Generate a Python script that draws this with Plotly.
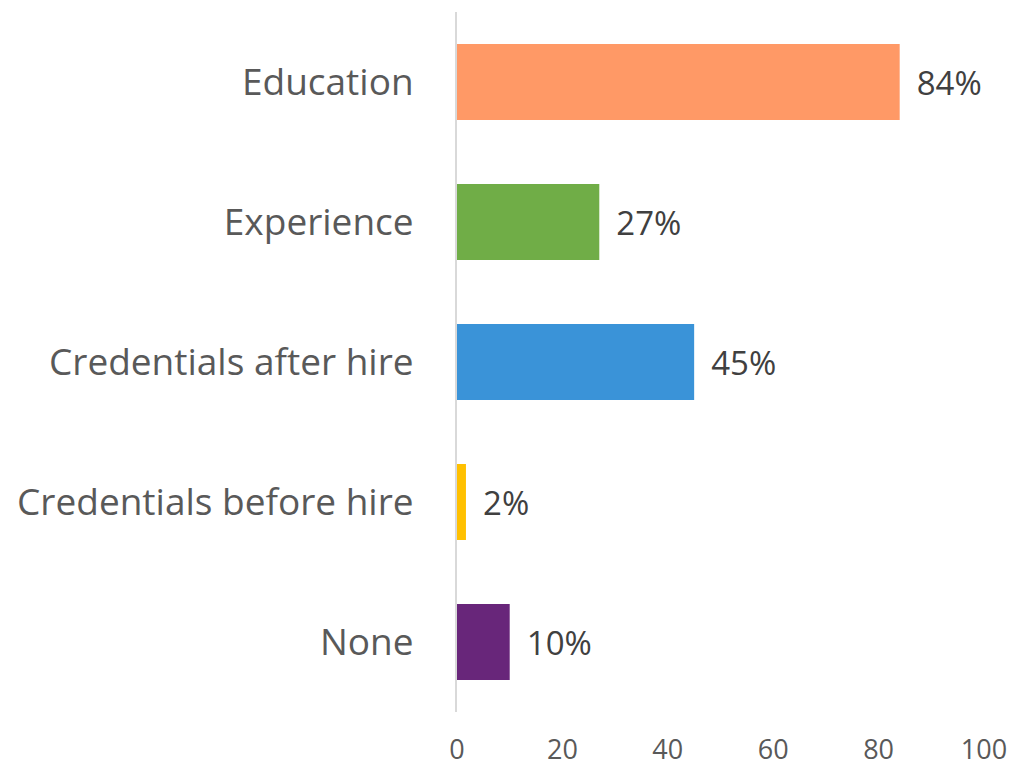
import plotly.graph_objects as go

categories = ["Education", "Experience", "Credentials after hire", "Credentials before hire", "None"]
values = [84, 27, 45, 1.7, 10]
labels = ["84%", "27%", "45%", "2%", "10%"]
colors = ["#FF9966", "#70AD47", "#3A93D8", "#FFC000", "#68267A"]
x_ticks = [0, 20, 40, 60, 80, 100]

fig = go.Figure(go.Bar(
    y=categories,
    x=values,
    orientation="h",
    marker=dict(color=colors, line=dict(width=0)),
    text=[" \u2009" + t for t in labels],
    textposition="outside",
    cliponaxis=False,
    textfont=dict(family="Open Sans", size=33, color="#404040"),
    width=0.543,
))

fig.update_layout(
    width=1013, height=768,
    margin=dict(l=457, r=29, t=12, b=56, autoexpand=False),
    paper_bgcolor="white", plot_bgcolor="white",
    showlegend=False,
    font=dict(family="Open Sans", color="#595959"),
    xaxis=dict(
        range=[0, 100], tickvals=x_ticks, showgrid=False, zeroline=False,
        showline=False, tickfont=dict(size=27, color="#595959"),
        ticklabelstandoff=19, fixedrange=True, automargin=False,
    ),
    yaxis=dict(
        categoryorder="array", categoryarray=categories[::-1],
        showgrid=False, zeroline=False, showline=True, linecolor="#D9D9D9",
        linewidth=2, tickfont=dict(size=37, color="#595959"),
        ticklabelstandoff=34, ticks="", automargin=False, fixedrange=True,
    ),
)

fig.write_html(
    "out.html",
    config={"displayModeBar": False},
    post_script="document.body.style.margin='0';document.body.style.overflow='hidden';",
)
